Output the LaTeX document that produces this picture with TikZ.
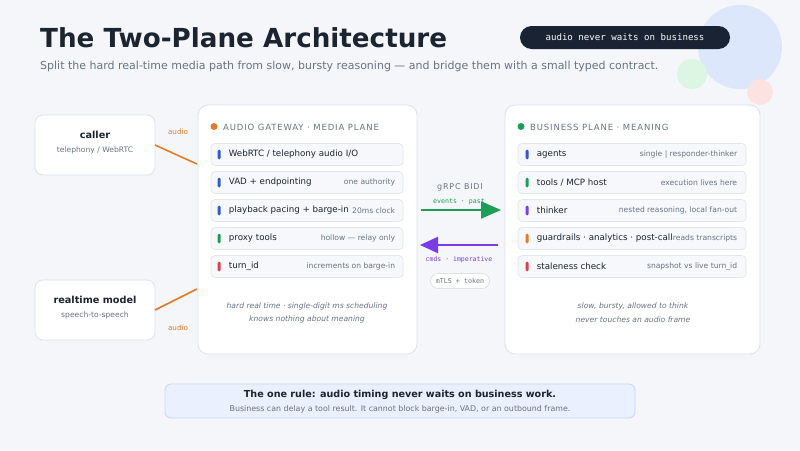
\documentclass[tikz,border=0pt]{standalone}
\usepackage{fontspec}
\setmainfont{DejaVu Sans}
\setmonofont{DejaVu Sans Mono}
\newfontfamily\capsfont[LetterSpace=10]{DejaVu Sans}
\usetikzlibrary{arrows.meta,calc}
\definecolor{bg}{HTML}{F4F6FA}
\definecolor{ink}{HTML}{1B2430}
\definecolor{muted}{HTML}{687383}
\definecolor{cardline}{HTML}{DDE2EA}
\definecolor{rowfill}{HTML}{F6F8FB}
\definecolor{rowline}{HTML}{E2E6ED}
\definecolor{pilldark}{HTML}{1A2334}
\definecolor{mblue}{HTML}{3358D4}
\definecolor{mgreen}{HTML}{1E9E55}
\definecolor{mpurple}{HTML}{7A3CE6}
\definecolor{morange}{HTML}{E07B2A}
\definecolor{mred}{HTML}{D9434A}
\definecolor{cblue}{HTML}{DCE7FB}
\definecolor{cgreen}{HTML}{DDF6E3}
\definecolor{cred}{HTML}{FCE3E1}
\definecolor{rulefill}{HTML}{EAF0FD}
\definecolor{ruleline}{HTML}{C8D5F3}
\newcommand\fsz[1]{\fontsize{#1}{#1}\selectfont}
\tikzset{
  card/.style={draw=cardline, line width=0.8pt, fill=white, rounded corners=8pt, inner sep=0pt},
  panel/.style={draw=cardline, line width=0.8pt, fill=white, rounded corners=10pt, inner sep=0pt},
  gwrow/.style={draw=rowline, line width=0.7pt, fill=rowfill, rounded corners=4pt, minimum width=192pt, minimum height=22pt, inner sep=0pt},
  bprow/.style={draw=rowline, line width=0.7pt, fill=rowfill, rounded corners=4pt, minimum width=228pt, minimum height=22pt, inner sep=0pt},
  marker/.style={fill=#1, rounded corners=1.5pt, minimum width=3pt, minimum height=10pt, inner sep=0pt},
  rowtext/.style={anchor=west, inner sep=0pt, text=ink, font=\fsz{8.7}},
  sidetext/.style={anchor=east, inner sep=0pt, text=muted, font=\fsz{7.6}},
  foot/.style={inner sep=0pt, text=muted, font=\fsz{7.6}\itshape},
  capstitle/.style={anchor=west, inner sep=0pt, text=muted, font=\capsfont\fsz{8.5}},
  audiolbl/.style={inner sep=0pt, text=morange, font=\fsz{7.2}},
  audioline/.style={draw=morange, line width=1.6pt},
}
\begin{document}
\begin{tikzpicture}[x=1pt,y=-1pt]
\fill[bg] (0,0) rectangle (800,450);
\useasboundingbox (0,0) rectangle (800,450);

% decorative circles
\fill[cblue] (740,47) circle (42);
\fill[cgreen] (692,74) circle (15);
\fill[cred] (760,92) circle (13);

% title
\node[anchor=base west, inner sep=0pt, text=ink, font=\fsz{26.2}\bfseries] (title) at (40,47) {The Two-Plane Architecture};
\node[anchor=base west, inner sep=0pt, text=muted, font=\fsz{11}] (subtitle) at (40,69) {Split the hard real-time media path from slow, bursty reasoning — and bridge them with a small typed contract.};
\node[fill=pilldark, rounded corners=11.5pt, minimum width=210pt, minimum height=23pt, inner sep=0pt, text=white!88!cblue, font=\ttfamily\fsz{9.1}] (pill) at (625,37.5) {audio never waits on business};

% side cards
\node[card, minimum width=120pt, minimum height=60pt] (caller) at (95,145) {};
\node[inner sep=0pt, text=ink, font=\fsz{9.7}\bfseries] (callerT) at (95,135) {caller};
\node[inner sep=0pt, text=muted, font=\fsz{7.6}] (callerS) at (95,150) {telephony / WebRTC};
\node[card, minimum width=120pt, minimum height=60pt] (rt) at (95,310) {};
\node[inner sep=0pt, text=ink, font=\fsz{9.7}\bfseries] (rtT) at (95,300) {realtime model};
\node[inner sep=0pt, text=muted, font=\fsz{7.6}] (rtS) at (95,315) {speech-to-speech};

% panels
\node[panel, minimum width=219pt, minimum height=249pt] (gw) at (307.5,229.5) {};
\node[panel, minimum width=255pt, minimum height=249pt] (bp) at (632.5,229.5) {};

% audio lines
\coordinate (c1) at (155,145);
\coordinate (g1in) at (197,164);
\coordinate (c2) at (155,310);
\coordinate (g2in) at (197,289);
\draw[audioline] (c1) -- (g1in);
\draw[audioline] (c2) -- (g2in);
\node[audiolbl] (al1) at (178,132) {audio};
\node[audiolbl] (al2) at (178,328) {audio};

% gateway header
\fill[morange] (214,126.5) circle (3.5);
\node[capstitle] (gwT) at (223,127) {AUDIO GATEWAY · MEDIA PLANE};

% gateway rows
\node[gwrow] (r1) at (307,154.5) {};
\node[marker=mblue] at ($(r1.west)+(8.5,0)$) {};
\node[rowtext] at ($(r1.west)+(18,0)$) {WebRTC / telephony audio I/O};

\node[gwrow] (r2) at (307,182.5) {};
\node[marker=mblue] at ($(r2.west)+(8.5,0)$) {};
\node[rowtext] at ($(r2.west)+(18,0)$) {VAD + endpointing};
\node[sidetext] at ($(r2.east)+(-8,0)$) {one authority};

\node[gwrow] (r3) at (307,210.5) {};
\node[marker=mblue] at ($(r3.west)+(8.5,0)$) {};
\node[rowtext] at ($(r3.west)+(18,0)$) {playback pacing + barge-in};
\node[sidetext] at ($(r3.east)+(-8,0)$) {20ms clock};

\node[gwrow] (r4) at (307,238.5) {};
\node[marker=mgreen] at ($(r4.west)+(8.5,0)$) {};
\node[rowtext] at ($(r4.west)+(18,0)$) {proxy tools};
\node[sidetext] at ($(r4.east)+(-8,0)$) {hollow — relay only};

\node[gwrow] (r5) at (307,266.5) {};
\node[marker=mred] at ($(r5.west)+(8.5,0)$) {};
\node[rowtext] at ($(r5.west)+(18,0)$) {turn\_id};
\node[sidetext] at ($(r5.east)+(-8,0)$) {increments on barge-in};

\node[foot] (gf1) at (307,306) {hard real time · single-digit ms scheduling};
\node[foot] (gf2) at (307,319.5) {knows nothing about meaning};

% business header
\fill[mgreen] (521,126.5) circle (3.5);
\node[capstitle] (bpT) at (530,127) {BUSINESS PLANE · MEANING};

% business rows
\node[bprow] (b1) at (632,154.5) {};
\node[marker=mblue] at ($(b1.west)+(9.5,0)$) {};
\node[rowtext] at ($(b1.west)+(19,0)$) {agents};
\node[sidetext] at ($(b1.east)+(-9,0)$) {single | responder-thinker};

\node[bprow] (b2) at (632,182.5) {};
\node[marker=mgreen] at ($(b2.west)+(9.5,0)$) {};
\node[rowtext] at ($(b2.west)+(19,0)$) {tools / MCP host};
\node[sidetext] at ($(b2.east)+(-9,0)$) {execution lives here};

\node[bprow] (b3) at (632,210.5) {};
\node[marker=mpurple] at ($(b3.west)+(9.5,0)$) {};
\node[rowtext] at ($(b3.west)+(19,0)$) {thinker};
\node[sidetext] at ($(b3.east)+(-9,0)$) {nested reasoning, local fan-out};

\node[bprow] (b4) at (632,238.5) {};
\node[marker=morange] at ($(b4.west)+(9.5,0)$) {};
\node[rowtext] at ($(b4.west)+(19,0)$) {guardrails · analytics · post-call};
\node[sidetext] at ($(b4.east)+(-9,0)$) {reads transcripts};

\node[bprow] (b5) at (632,266.5) {};
\node[marker=mred] at ($(b5.west)+(9.5,0)$) {};
\node[rowtext] at ($(b5.west)+(19,0)$) {staleness check};
\node[sidetext] at ($(b5.east)+(-9,0)$) {snapshot vs live turn\_id};

\node[foot] (bf1) at (633,306) {slow, bursty, allowed to think};
\node[foot] (bf2) at (633,319.5) {never touches an audio frame};

% bridge
\node[inner sep=0pt, text=muted, font=\capsfont\fsz{8}] (grpc) at (460,187) {gRPC BIDI};
\node[inner sep=0pt, text=mgreen, font=\ttfamily\fsz{6.6}] (ev) at (459,201.5) {events · past};
\coordinate (e1) at (421,210);
\coordinate (e2) at (501,210);
\draw[draw=mgreen, line width=2.2pt, -{Triangle[length=20pt,width=17pt]}] (e1) -- (e2);
\coordinate (m1) at (498,245);
\coordinate (m2) at (420,245);
\draw[draw=mpurple, line width=2.2pt, -{Triangle[length=18pt,width=16pt]}] (m1) -- (m2);
\node[inner sep=0pt, text=mpurple, font=\ttfamily\fsz{6.5}] (cm) at (459,259.5) {cmds · imperative};
\node[draw=cardline, line width=0.7pt, fill=white, rounded corners=7.5pt, minimum width=59pt, minimum height=15pt, inner sep=0pt, text=muted, font=\ttfamily\fsz{6.7}] (tls) at (460,281) {mTLS + token};

% rule box
\node[draw=ruleline, line width=0.8pt, fill=rulefill, rounded corners=6pt, minimum width=470pt, minimum height=34pt, inner sep=0pt] (rule) at (400,401) {};
\node[inner sep=0pt, text=ink, font=\fsz{9.6}\bfseries] (ruleT) at (400,395) {The one rule: audio timing never waits on business work.};
\node[inner sep=0pt, text=muted, font=\fsz{7.9}] (ruleS) at (400,409) {Business can delay a tool result. It cannot block barge-in, VAD, or an outbound frame.};
\end{tikzpicture}
\end{document}
